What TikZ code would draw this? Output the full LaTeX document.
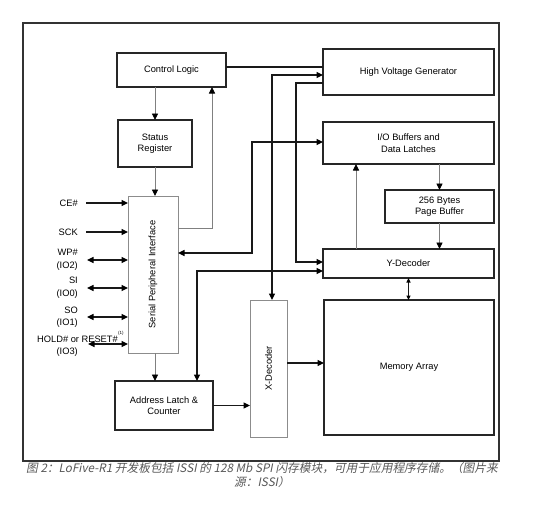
\documentclass[tikz,border=0pt]{standalone}
\usepackage{fontspec}
\setmainfont{Liberation Sans}
\newfontfamily\cjk[FakeSlant=0.2]{Noto Sans CJK SC}
\usetikzlibrary{arrows.meta}
\begin{document}
\begin{tikzpicture}[x=1pt,y=-1pt,
  tip/.tip={Triangle[length=6.5pt,width=6pt,color=black]},
  box/.style={draw=black!85,line width=1.2pt,inner sep=0pt,outer sep=0pt,align=center,font=\fontsize{9.3}{11.5}\selectfont},
  gbox/.style={box,draw=black!45,line width=0.9pt},
  blk/.style={line width=1.1pt,draw=black!90},
  arr/.style={blk,-tip},
  darr/.style={blk,tip-tip},
  gry/.style={line width=0.9pt,draw=black!50},
  garr/.style={gry,-tip},
  lbl/.style={font=\fontsize{9.3}{11}\selectfont,inner sep=0pt},
  captext/.style={font=\cjk\fontsize{11.7}{13}\selectfont,text=black!65,inner sep=0pt}
]
\useasboundingbox (0,0) rectangle (544,517);
\fill[white] (0,0) rectangle (544,517);
% frame
\draw[line width=1.5pt,draw=black!80] (23,23) rectangle (499,461);

% boxes
\node[box,minimum width=109pt,minimum height=34pt] (cl) at (171.5,70) {Control Logic};
\node[box,minimum width=74pt,minimum height=47pt] (sr) at (155,143.5) {Status\\Register};
\node[gbox,minimum width=50pt,minimum height=157pt] (spi) at (153,274.5) {};
\node[lbl,rotate=90] (spit) at (spi.center) {Serial Peripheral Interface};
\node[box,minimum width=171pt,minimum height=46pt] (hvg) at (408.5,72) {High Voltage Generator};
\node[box,minimum width=171pt,minimum height=42pt] (io) at (408.5,143) {I/O Buffers and\\Data Latches};
\node[box,minimum width=109pt,minimum height=33pt] (pb) at (439.5,206.5) {256 Bytes\\Page Buffer};
\node[box,minimum width=171pt,minimum height=29pt] (yd) at (408.5,263.5) {Y-Decoder};
\node[box,minimum width=170pt,minimum height=135pt] (ma) at (409,367.5) {Memory Array};
\node[gbox,minimum width=37pt,minimum height=137pt] (xd) at (268.5,368.5) {};
\node[lbl,rotate=90] (xdt) at (xd.center) {X-Decoder};
\node[box,minimum width=98pt,minimum height=49pt] (al) at (164,405.5) {Address Latch \&\\Counter};

% helper coordinates
\coordinate (h0) at (226,67);
\coordinate (h1) at (272,75);
\coordinate (h2) at (296,83);
\coordinate (h2b) at (296,262);
\coordinate (h4) at (252,142);
\coordinate (h4b) at (252,253);
\coordinate (h5) at (212,228);
\coordinate (h6) at (197,271);
\coordinate (h7) at (155,0);
\coordinate (h8) at (356,0);
\coordinate (h9) at (0,363);

% connectors
\draw[blk] (h0 -| cl.east) -- (h0 -| hvg.west);
\draw[darr] (h1 -| hvg.west) -- (h1) -- (h1 |- xd.north);
\draw[arr] (h2 -| hvg.west) -- (h2) -- (h2b) -- (h2b -| yd.west);
\draw[darr] (h4b -| spi.east) -- (h4b) -- (h4) -- (h4 -| io.west);
\draw[garr] (h5 -| spi.east) -- (h5) -- (h5 |- cl.south);
\draw[darr] (h6 -| yd.west) -- (h6) -- (h6 |- al.north);
\draw[garr] (h7 |- cl.south) -- (h7 |- sr.north);
\draw[garr] (h7 |- sr.south) -- (h7 |- spi.north);
\draw[garr] (h7 |- spi.south) -- (h7 |- al.north);
\draw[garr] (h8 |- yd.north) -- (h8 |- io.south);
\draw[garr] (pb.north |- io.south) -- (pb.north);
\draw[garr] (pb.south) -- (pb.south |- yd.north);
\draw[blk,{Triangle[length=4.5pt,width=4pt,color=black]}-{Triangle[length=4.5pt,width=4pt,color=black]}] (yd.south) -- (yd.south |- ma.north);
\draw[arr] (al.east) -- (al.east -| xd.west);
\draw[arr] (h9 -| xd.east) -- (h9 -| ma.west);

% input signals
\coordinate (s1) at (86,203);
\coordinate (s2) at (86,232);
\coordinate (s3) at (87,260);
\coordinate (s4) at (87,288);
\coordinate (s5) at (87,317);
\coordinate (s6) at (88,344);
\draw[arr] (s1) -- (s1 -| spi.west);
\draw[arr] (s2) -- (s2 -| spi.west);
\draw[darr] (s3) -- (s3 -| spi.west);
\draw[darr] (s4) -- (s4 -| spi.west);
\draw[darr] (s5) -- (s5 -| spi.west);

\node[lbl,anchor=east] (l1) at (78,203) {CE\#};
\node[lbl,anchor=east] (l2) at (78,232) {SCK};
\node[lbl,anchor=east] (l3a) at (78,252) {WP\#};
\node[lbl,anchor=east] (l3b) at (78,266) {(IO2)};
\node[lbl,anchor=east] (l4a) at (78,280) {SI};
\node[lbl,anchor=east] (l4b) at (78,294) {(IO0)};
\node[lbl,anchor=east] (l5a) at (78,310) {SO};
\node[lbl,anchor=east] (l5b) at (78,323) {(IO1)};
\node[lbl,anchor=east] (l6a) at (118,339) {HOLD\# or RESET\#};
\node[font=\fontsize{4.5}{5}\selectfont,inner sep=0pt,anchor=west] (l6s) at (118,333) {(1)};
\node[lbl,anchor=east] (l6b) at (78,352) {(IO3)};
\draw[darr] (s6) -- (s6 -| spi.west);

% caption
\node[captext] (c1) at (262,468) {图 2：LoFive-R1 开发板包括 ISSI 的 128 Mb SPI 闪存模块，可用于应用程序存储。（图片来};
\node[captext] (c2) at (262,482) {源：ISSI）};
\end{tikzpicture}
\end{document}
